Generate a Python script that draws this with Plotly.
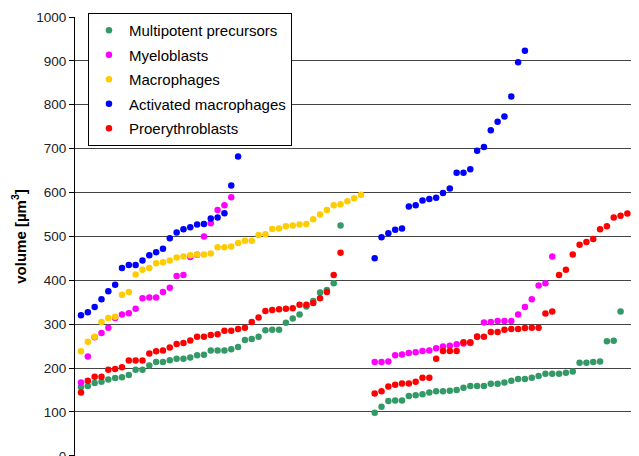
import plotly.graph_objects as go

# ---- data (volume in µm³, rank-ordered cells; two groups of samples) ----
series_names = ["Multipotent precursors", "Myeloblasts", "Macrophages",
                "Activated macrophages", "Proerythroblasts"]
series_colors = ["#339966", "#FF00FF", "#FFCC00", "#0000FF", "#FF0000"]

multipotent_left = [157, 159, 166, 169, 174, 177, 179, 184, 196, 196,
                    206, 214, 214, 218, 221, 221, 224, 229, 230, 240,
                    240, 240, 243, 248, 264, 266, 271, 286, 287, 287,
                    303, 313, 322, 340, 353, 372, 378, 393, 525]
multipotent_right = [98, 112, 125, 126, 126, 136, 138, 140, 144, 147,
                     147, 148, 150, 155, 159, 159, 159, 164, 164, 167,
                     171, 175, 175, 178, 182, 187, 187, 187, 189, 192,
                     212, 212, 214, 215, 261, 262, 329]

myeloblasts_left = [167, 226, 270, 280, 292, 314, 322, 325, 335, 359,
                    361, 361, 373, 383, 410, 412, 453, 458, 500, 530,
                    560, 571, 589]
myeloblasts_right = [214, 214, 215, 229, 231, 234, 236, 239, 240, 245,
                     249, 251, 254, 256, 257, 272, 304, 305, 307, 307,
                     307, 322, 339, 357, 388, 393, 454]

macrophages_left = [238, 260, 271, 305, 314, 317, 367, 373, 413, 424,
                    428, 439, 441, 445, 452, 454, 457, 459, 459, 461,
                    475, 475, 477, 485, 490, 490, 503, 505, 517, 518,
                    523, 525, 527, 528, 539, 550, 560, 571, 573, 580,
                    587, 595]
macrophages_right = []

activated_left = [320, 327, 339, 357, 375, 390, 428, 435, 435, 445,
                  457, 464, 472, 496, 509, 516, 521, 527, 528, 541,
                  543, 553, 616, 682]
activated_right = [450, 498, 507, 515, 518, 568, 571, 582, 585, 588,
                   599, 609, 645, 645, 653, 695, 704, 742, 761, 773,
                   819, 897, 923]

proerythro_left = [144, 171, 180, 180, 196, 198, 202, 217, 217, 217,
                   233, 238, 240, 247, 255, 257, 263, 271, 271, 275,
                   277, 285, 285, 289, 292, 305, 315, 330, 332, 334,
                   335, 336, 344, 344, 348, 359, 373, 412, 463]
proerythro_right = [142, 147, 158, 162, 165, 165, 169, 178, 178, 221,
                    239, 239, 239, 259, 259, 271, 271, 282, 282, 287,
                    289, 289, 291, 292, 292, 324, 329, 412, 424, 459,
                    481, 487, 494, 516, 523, 543, 547, 552, 580]

LEFT_START = 1
RIGHT_START = 44

y_ticks = [0, 100, 200, 300, 400, 500, 600, 700, 800, 900, 1000]

groups = [
    (multipotent_left, multipotent_right),
    (myeloblasts_left, myeloblasts_right),
    (macrophages_left, macrophages_right),
    (activated_left, activated_right),
    (proerythro_left, proerythro_right),
]

fig = go.Figure()
for name, color, (left, right) in zip(series_names, series_colors, groups):
    xs = list(range(LEFT_START, LEFT_START + len(left))) + \
         list(range(RIGHT_START, RIGHT_START + len(right)))
    ys = list(left) + list(right)
    fig.add_trace(go.Scatter(
        x=xs, y=ys, mode="markers", name=name, legendgroup=name,
        marker=dict(color=color, size=6.5, symbol="circle", line=dict(width=0)),
    ))

fig.update_layout(
    width=631, height=448,
    margin=dict(l=67, r=0, t=9, b=0),
    paper_bgcolor="white", plot_bgcolor="white",
    font=dict(family="Liberation Sans, Arial, sans-serif", size=13.5, color="black"),
    showlegend=True,
    legend=dict(
        x=0.023, y=1.009, xanchor="left", yanchor="top",
        bgcolor="white", bordercolor="black", borderwidth=1,
        font=dict(size=15, color="black"),
        tracegroupgap=2, itemwidth=30,
    ),
    xaxis=dict(range=[0.121, 82.70], visible=False, showgrid=False, automargin=False),
    yaxis=dict(
        range=[-0.5, 1000], tickvals=y_ticks, ticktext=[str(v) for v in y_ticks],
        showgrid=True, gridcolor="#444444", gridwidth=1,
        showline=True, linecolor="black", linewidth=1,
        ticks="outside", ticklen=5, tickcolor="black",
        zeroline=False, ticklabeloverflow="allow", automargin=False,
        tickfont=dict(size=13.5, color="#222222"),
        title=dict(text="<b>volume [µm<sup>3</sup>]</b>", font=dict(size=15, color="black"),
                   standoff=6),
    ),
)

fig.write_html("out.html")
